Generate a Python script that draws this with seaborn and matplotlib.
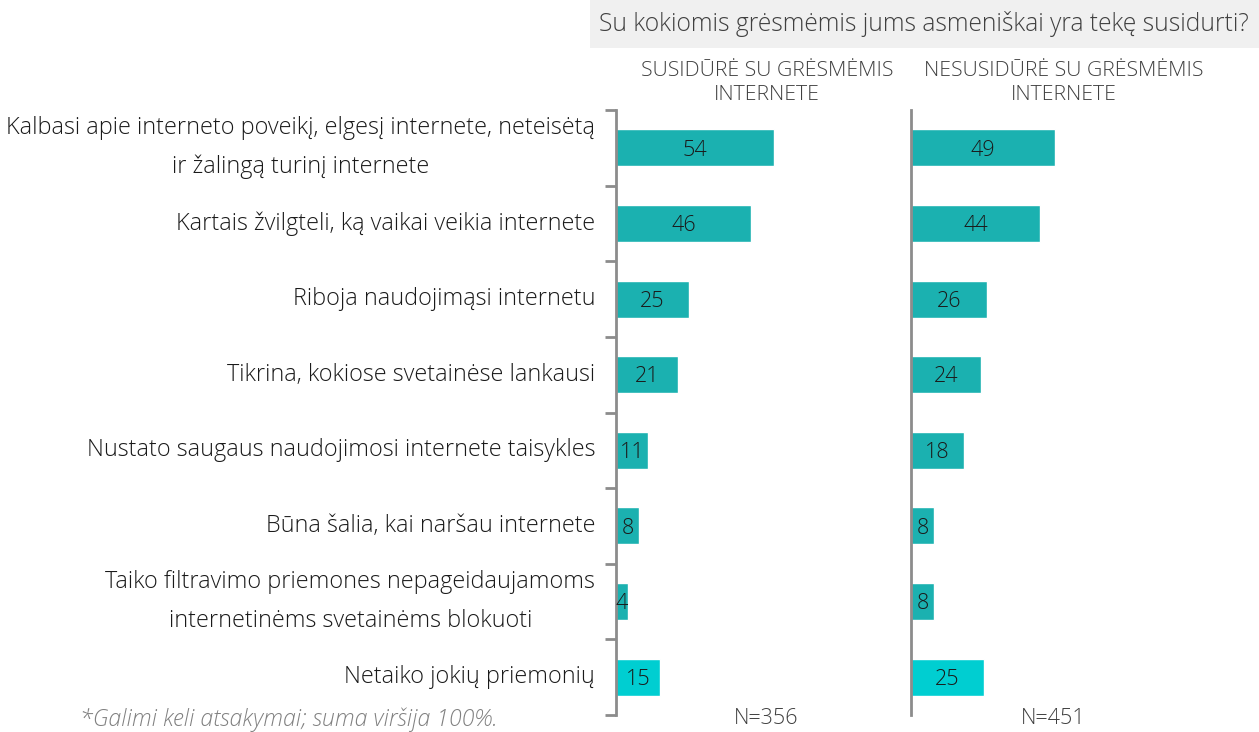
import numpy as np
import pandas as pd
import matplotlib
matplotlib.use("Agg")
import matplotlib.pyplot as plt
import seaborn as sns

categories = [
    "Kalbasi apie interneto poveikį, elgesį internete, neteisėtą\nir žalingą turinį internete",
    "Kartais žvilgteli, ką vaikai veikia internete",
    "Riboja naudojimąsi internetu",
    "Tikrina, kokiose svetainėse lankausi",
    "Nustato saugaus naudojimosi internete taisykles",
    "Būna šalia, kai naršau internete",
    "Taiko filtravimo priemones nepageidaujamoms\ninternetinėms svetainėms blokuoti",
    "Netaiko jokių priemonių",
]
faced = [54, 46, 25, 21, 11, 8, 4, 15]
not_faced = [49, 44, 26, 24, 18, 8, 8, 25]
panel_titles = ["SUSIDŪRĖ SU GRĖSMĖMIS\nINTERNETE", "NESUSIDŪRĖ SU GRĖSMĖMIS\nINTERNETE"]
sample_sizes = ["N=356", "N=451"]
question = "Su kokiomis grėsmėmis jums asmeniškai yra tekę susidurti?"
footnote = "*Galimi keli atsakymai; suma viršija 100%."

bar_colors = ["#1bb1b0"] * 7 + ["#00ced1"]

sns.set_theme(style="white")
plt.rcParams["font.family"] = ["Open Sans", "DejaVu Sans"]

W, H = 1259, 732
fig = plt.figure(figsize=(W / 100, H / 100), dpi=100)

top, bottom = 110, 715
scale = 2.93  # px per percentage point
panels = [(616, 280, faced), (911, 340, not_faced)]
header_x = [767, 1064]
n_x = [766, 1053]

df_cats = pd.DataFrame({"cat": categories})
for i, (x0, wpx, vals) in enumerate(panels):
    ax = fig.add_axes([x0 / W, 1 - bottom / H, wpx / W, (bottom - top) / H])
    d = df_cats.assign(val=vals)
    sns.barplot(data=d, x="val", y="cat", hue="cat", palette=bar_colors,
                orient="h", width=0.49, legend=False, ax=ax, saturation=1)
    ax.set_xlim(0, wpx / scale)
    ax.set_ylim(len(categories) - 0.5, -0.5)
    ax.set_xlabel("")
    ax.set_ylabel("")
    ax.set_xticks([])
    for s in ["top", "right", "bottom"]:
        ax.spines[s].set_visible(False)
    ax.spines["left"].set_color("#8c8c8c")
    ax.spines["left"].set_linewidth(2)
    for p, v in zip(ax.patches, vals):
        ax.text(p.get_x() + p.get_width() / 2, p.get_y() + p.get_height() / 2 + 0.03, str(v),
                ha="center", va="center", fontsize=15.5, color="#1a1a1a", fontweight="light")
    if i == 0:
        ax.set_yticks(np.arange(-0.5, len(categories), 1))
        ax.set_yticklabels([])
        ax.tick_params(axis="y", which="major", length=8, width=2, color="#8c8c8c", left=True)
        ax.set_yticks(np.arange(len(categories)), minor=True)
        ax.set_yticklabels(categories, minor=True, fontsize=16.8, color="#1a1a1a",
                           multialignment="center", linespacing=1.8, fontweight="light",
                           va="center")
        ax.tick_params(axis="y", which="minor", length=0, pad=15)
    else:
        ax.set_yticks([])
    fig.text(header_x[i] / W, 1 - 83 / H, panel_titles[i], ha="center", va="center",
             fontsize=15.3, color="#404040", linespacing=1.2, fontweight="light")
    fig.text(n_x[i] / W, 1 - 718 / H, sample_sizes[i],
             ha="center", va="center", fontsize=15.5, color="#404040", fontweight="light")

# question banner
fig.patches.append(plt.Rectangle((590 / W, 1 - 48 / H), (W - 590) / W, 48 / H,
                                 transform=fig.transFigure, facecolor="#f0f0f0",
                                 edgecolor="none", zorder=0))
fig.text(924 / W, 1 - 24 / H, question, ha="center", va="center",
         fontsize=17.7, color="#404040", fontweight="light")
fig.text(80 / W, 1 - 720 / H, footnote, ha="left", va="center",
         fontsize=16.7, color="#808080", style="italic", fontweight="light")

fig.savefig("out.png", dpi=100)
